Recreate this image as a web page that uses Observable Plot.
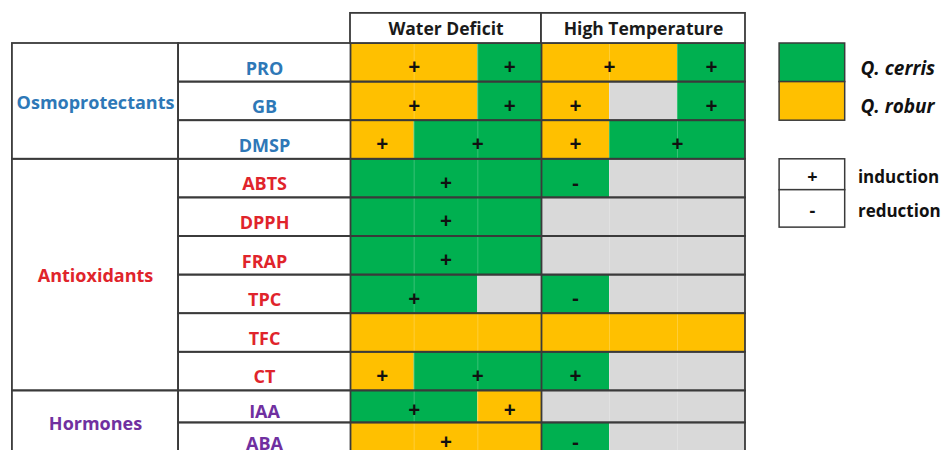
<!DOCTYPE html>
<html><head><meta charset="utf-8">
<script src="https://cdn.jsdelivr.net/npm/d3@7"></script>
<script src="https://cdn.jsdelivr.net/npm/@observablehq/plot@0.6"></script>
<style>body{margin:0;background:#fff} #chart{width:943px;height:450px;overflow:hidden}</style>
</head><body><div id="chart"></div>
<script>
// ---- data ----
const metabolites = ["PRO","GB","DMSP","ABTS","DPPH","FRAP","TPC","TFC","CT","IAA","ABA"];
const groupNames = ["Osmoprotectants","Antioxidants","Hormones"];
const groupSizes = [3, 6, 2];
const groupColors = ["#2E78B7","#E0242B","#7030A0"];
const conditions = ["Water Deficit","High Temperature"];
const species = ["Q. cerris","Q. robur"];
const speciesColors = ["#00B050","#FFC000"];
const noResponseColor = "#D9D9D9";
const signSymbols = ["+","-"];
const signMeanings = ["induction","reduction"];
const C = "Q. cerris", R = "Q. robur", N = "none";
// runs: [species, sub-columns spanned, sign]
const waterDeficit = [
  [[R,2,"+"],[C,1,"+"]],
  [[R,2,"+"],[C,1,"+"]],
  [[R,1,"+"],[C,2,"+"]],
  [[C,3,"+"]],
  [[C,3,"+"]],
  [[C,3,"+"]],
  [[C,2,"+"],[N,1,""]],
  [[R,3,""]],
  [[R,1,"+"],[C,2,"+"]],
  [[C,2,"+"],[R,1,"+"]],
  [[R,3,"+"]]
];
const highTemperature = [
  [[R,2,"+"],[C,1,"+"]],
  [[R,1,"+"],[N,1,""],[C,1,"+"]],
  [[R,1,"+"],[C,2,"+"]],
  [[C,1,"-"],[N,2,""]],
  [[N,3,""]],
  [[N,3,""]],
  [[C,1,"-"],[N,2,""]],
  [[R,3,""]],
  [[C,1,"+"],[N,2,""]],
  [[N,3,""]],
  [[C,1,"-"],[N,2,""]]
];

// ---- layout (table units) ----
const subColWidths = [1, 1, 1, 1.068, 1.068, 1.068];
const rowHeights = [1, 1, 1, 1, 1, 1, 1, 1, 1, 0.83, 0.83];
const colGroup = [-5.31, -2.70], colName = [-2.70, 0], colLegend = [6.74, 7.77];
const headerTop = -0.78;
const symbolY = [3, 3.8, 4.77];
const labelDrop = 0.155, signDrop = 0.117; // text sits low in its cell
const xPos = k => d3.sum(subColWidths.slice(0, k));
const yPos = k => d3.sum(rowHeights.slice(0, k));

// ---- derived tables ----
const cells = [];
metabolites.forEach((m, i) => {
  [waterDeficit[i], highTemperature[i]].forEach((runs, c) => {
    let k = c * 3;
    runs.forEach(([sp, len, sign]) => {
      cells.push({row: i, x1: xPos(k), x2: xPos(k + len), y1: yPos(i), y2: yPos(i + 1), h: rowHeights[i], species: sp, sign});
      k += len;
    });
  });
});
const groups = [];
let start = 0;
groupNames.forEach((g, i) => { groups.push({name: g, color: groupColors[i], y1: yPos(start), y2: yPos(start + groupSizes[i]), i0: start, i1: start + groupSizes[i]}); start += groupSizes[i]; });
const rows = metabolites.map((m, i) => ({name: m, y1: yPos(i), y2: yPos(i + 1), h: rowHeights[i], color: groups.find(g => i >= g.i0 && i < g.i1).color}));
const headers = conditions.map((c, i) => ({name: c, x1: xPos(i * 3), x2: xPos(i * 3 + 3)}));
const speciesLegend = species.map((s, i) => ({name: s, y1: i, y2: i + 1}));
const symbolLegend = signSymbols.map((s, i) => ({sym: s, name: signMeanings[i], y1: symbolY[i], y2: symbolY[i + 1]}));
const subLines = [1, 2, 4, 5].map(xPos);
const tableBottom = yPos(metabolites.length), tableRight = xPos(6);

const lineColor = "#3a3a3a";
const font = {fontFamily: "'Open Sans', sans-serif", fontWeight: "bold"};

const chart = Plot.plot({
  width: 943, height: 450, margin: 0,
  x: {domain: [0, 3], range: [350, 541], axis: null},
  y: {domain: [0, 1], range: [43, 81.6], axis: null},
  color: {domain: [...species, "none"], range: [...speciesColors, noResponseColor]},
  marks: [
    Plot.rect(cells, {x1: "x1", x2: "x2", y1: "y1", y2: "y2", fill: "species"}),
    Plot.ruleX(subLines, {x: d => d, y1: 0, y2: tableBottom, stroke: "white", strokeOpacity: 0.22, strokeWidth: 1}),
    Plot.rect(rows, {x1: colName[0], x2: tableRight, y1: "y1", y2: "y2", fill: "none", stroke: lineColor, strokeWidth: 1.8}),
    Plot.rect(groups, {x1: colGroup[0], x2: colGroup[1], y1: "y1", y2: "y2", fill: "none", stroke: lineColor, strokeWidth: 1.8}),
    Plot.ruleX([0, xPos(3)], {x: d => d, y1: 0, y2: tableBottom, stroke: lineColor, strokeWidth: 1.8}),
    Plot.rect(headers, {x1: "x1", x2: "x2", y1: headerTop, y2: 0, fill: "white", stroke: lineColor, strokeWidth: 1.8}),
    Plot.text(headers, {x: d => (d.x1 + d.x2) / 2, y: headerTop / 2, text: "name", fill: "#1a1a1a", fontSize: 17.5, dy: 1, ...font}),
    ...groups.map(g => Plot.text([g], {x: (colGroup[0] + colGroup[1]) / 2, y: d => (d.y1 + d.y2) / 2, text: "name", fill: g.color, fontSize: 18, dy: 1.5, ...font})),
    ...groups.map(g => Plot.text(rows.filter(r => r.color === g.color), {x: (colName[0] + colName[1]) / 2, y: d => (d.y1 + d.y2) / 2 + labelDrop * d.h, text: "name", fill: g.color, fontSize: 18, ...font})),
    Plot.text(cells.filter(d => d.sign === "+"), {x: d => (d.x1 + d.x2) / 2, y: d => (d.y1 + d.y2) / 2 + signDrop * d.h, text: "sign", fill: "#111", fontSize: 21, ...font}),
    Plot.text(cells.filter(d => d.sign === "-"), {x: d => (d.x1 + d.x2) / 2, y: d => (d.y1 + d.y2) / 2 + signDrop * d.h, text: "sign", fill: "#111", fontSize: 20, ...font}),
    // legend
    Plot.rect(speciesLegend, {x1: colLegend[0], x2: colLegend[1], y1: "y1", y2: "y2", fill: "name", stroke: lineColor, strokeWidth: 1.5}),
    Plot.text(speciesLegend, {x: colLegend[1] + 0.24, y: d => (d.y1 + d.y2) / 2, text: "name", textAnchor: "start", fill: "#111", fontSize: 19, fontStyle: "italic", dy: 6, ...font}),
    Plot.rect(symbolLegend, {x1: colLegend[0], x2: colLegend[1], y1: "y1", y2: "y2", fill: "white", stroke: lineColor, strokeWidth: 1.5}),
    Plot.text(symbolLegend, {x: (colLegend[0] + colLegend[1]) / 2, y: d => (d.y1 + d.y2) / 2, text: "sym", fill: "#111", fontSize: 18, dy: 2.5, ...font}),
    Plot.text(symbolLegend, {x: colLegend[1] + 0.2, y: d => (d.y1 + d.y2) / 2, text: "name", textAnchor: "start", fill: "#111", fontSize: 17, dy: 2.5, ...font})
  ]
});
document.getElementById("chart").appendChild(chart);
</script></body></html>
